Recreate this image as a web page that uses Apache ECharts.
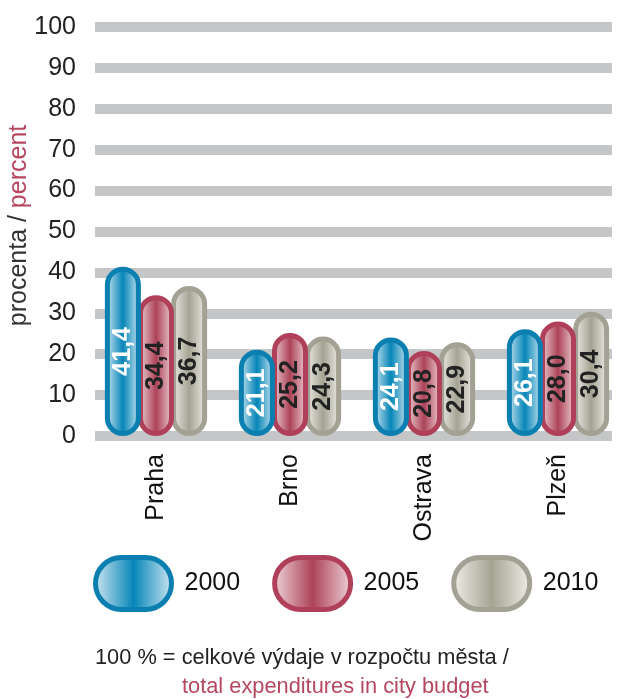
<!DOCTYPE html>
<html lang="cs">
<head>
<meta charset="UTF-8">
<title>vydaje</title>
<script src="https://cdn.jsdelivr.net/npm/echarts@6/dist/echarts.min.js"></script>
<style>
  html, body { margin: 0; padding: 0; background: #fff; }
  #chart { width: 619px; height: 699px; }
</style>
</head>
<body>
<div id="chart"></div>
<script>
// data
var cities = ['Praha', 'Brno', 'Ostrava', 'Plzeň'];
var years = ['2000', '2005', '2010'];
var v2000 = [41.4, 21.1, 24.1, 26.1];
var v2005 = [34.4, 25.2, 20.8, 28.0];
var v2010 = [36.7, 24.3, 22.9, 30.4];

// barvy: okraj, stred, kraj gradientu, barva popisku
var styles = [
    { border: '#0b7fb0', mid: '#0686b8', edge: '#d6eaf4', text: '#ffffff' },
    { border: '#b0405a', mid: '#ad4358', edge: '#f0d8dc', text: '#222222' },
    { border: '#a2a193', mid: '#a4a393', edge: '#f2f2ec', text: '#222222' }
];

function grad(s) {
    return new echarts.graphic.LinearGradient(0, 0, 1, 0, [
        { offset: 0, color: s.edge },
        { offset: 0.5, color: s.mid },
        { offset: 1, color: s.edge }
    ]);
}

var pill = 'path://M26,0 H50 A26,26 0 0 1 50,52 H26 A26,26 0 0 1 26,0 Z';

var chart = echarts.init(document.getElementById('chart'));

var series = [v2000, v2005, v2010].map(function (vals, i) {
    var s = styles[i];
    return {
        name: years[i],
        type: 'bar',
        xAxisIndex: 0,
        yAxisIndex: 0,
        data: vals,
        barWidth: 36,
        barGap: '-8%',
        z: 3 - i + 2,
        itemStyle: {
            color: grad(s),
            borderColor: s.border,
            borderWidth: 5,
            borderRadius: 18
        },
        label: {
            show: true,
            position: 'inside',
            rotate: 90,
            color: s.text,
            fontSize: 25,
            fontWeight: 'bold',
            fontFamily: 'Liberation Sans, Arial, sans-serif',
            formatter: function (p) { return p.value.toFixed(1).replace('.', ','); }
        }
    };
});

var option = {
    backgroundColor: '#fff',
    animation: false,
    textStyle: { fontFamily: 'Liberation Sans, Arial, sans-serif' },
    title: [
        {
            text: '100 % = celkové výdaje v rozpočtu města /',
            left: 90, top: 642,
            textStyle: { fontSize: 21.8, fontWeight: 'normal', color: '#222' }
        },
        {
            text: 'total expenditures in city budget',
            left: 177, top: 671,
            textStyle: { fontSize: 21.8, fontWeight: 'normal', color: '#b5475f' }
        }
    ],
    legend: {
        data: years,
        left: 88, top: 550,
        width: 531,
        icon: pill,
        itemWidth: 76,
        itemHeight: 52,
        itemGap: 32,
        itemStyle: { borderWidth: 5 },
        textStyle: { fontSize: 25, color: '#111', padding: [0, 0, 0, 8] }
    },
    grid: [
        { left: 89, width: 536, top: 27, bottom: 263, outerBoundsMode: 'none' },
        { left: 95, right: 7, top: 27, bottom: 263, outerBoundsMode: 'none' }
    ],
    xAxis: [
        {
            type: 'category', gridIndex: 0, data: cities,
            axisLine: { show: false }, axisTick: { show: false },
            axisLabel: { rotate: 90, fontSize: 25, color: '#111', margin: 18 }
        },
        { type: 'value', gridIndex: 1, show: false }
    ],
    yAxis: [
        { type: 'value', gridIndex: 0, min: 0, max: 100, show: false },
        {
            type: 'value', gridIndex: 1, min: 0, max: 100, interval: 10,
            axisLine: { show: false }, axisTick: { show: false },
            axisLabel: { fontSize: 25, color: '#222', margin: 19 },
            splitLine: { lineStyle: { color: '#c5c6c8', width: 10 } },
            name: '{a|procenta / }{b|percent}',
            nameLocation: 'middle',
            nameRotate: 90,
            nameGap: 63,
            nameMoveOverlap: false,
            nameTextStyle: {
                padding: [0, 0, 0, 12],
                rich: {
                    a: { fontSize: 25, color: '#333' },
                    b: { fontSize: 25, color: '#b5475f' }
                }
            }
        }
    ],
    series: series
};

chart.setOption(option);
</script>
</body>
</html>
